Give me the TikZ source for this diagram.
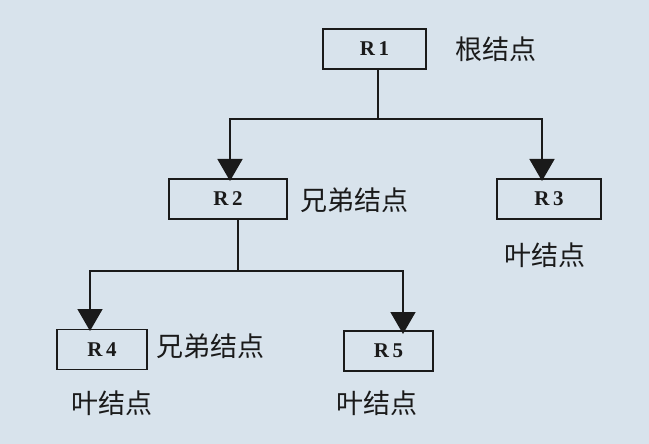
\documentclass[tikz,border=0pt]{standalone}
\usepackage{fontspec}
\newfontfamily\cjk{Noto Sans CJK SC}
\newfontfamily\rfont{Liberation Serif}
\usetikzlibrary{arrows.meta}
\definecolor{bg}{HTML}{D8E3EC}
\definecolor{ink}{HTML}{1A1A1A}
\begin{document}
\begin{tikzpicture}[x=1pt,y=-1pt,
  rbox/.style={draw=ink,line width=1.3pt,minimum width=#1,minimum height=40pt,inner sep=0pt,font=\rfont\bfseries\fontsize{21}{21}\selectfont,text=ink},
  rbox/.default=104pt,
  lbl/.style={font=\cjk\fontsize{27}{27}\selectfont,text=ink,inner sep=0pt},
  conn/.style={draw=ink,line width=1.6pt},
  arr/.style={conn,-{Triangle[width=25pt,length=22pt]}}]
\fill[bg] (0,0) rectangle (649,444);
\useasboundingbox (0,0) rectangle (649,444);
\node[rbox=103pt] (r1) at (374.5,49) {R\,1};
\node[rbox=118pt] (r2) at (228,199) {R\,2};
\node[rbox=104pt] (r3) at (549,199) {R\,3};
\node[rbox=90pt] (r4) at (102,349.5) {R\,4};
\node[rbox=89pt] (r5) at (388.5,351) {R\,5};
\node[lbl,anchor=west] (l1) at (455,49) {根结点};
\node[lbl,anchor=west] (l2) at (300,200) {兄弟结点};
\node[lbl] (l3) at (545,255) {叶结点};
\node[lbl,anchor=west] (l4) at (156,346) {兄弟结点};
\node[lbl] (l5) at (112,403) {叶结点};
\node[lbl] (l6) at (377,403) {叶结点};
\coordinate (j1) at (378,119);
\coordinate (j2) at (238,271);
\draw[conn] (r1.south -| j1) -- (j1);
\draw[arr] (j1) -- (230,119) -- (230,181);
\draw[arr] (j1) -- (542,119) -- (542,181);
\draw[conn] (r2.south -| j2) -- (j2);
\draw[arr] (j2) -- (90,271) -- (90,331);
\draw[arr] (j2) -- (403,271) -- (403,334);
\end{tikzpicture}
\end{document}
